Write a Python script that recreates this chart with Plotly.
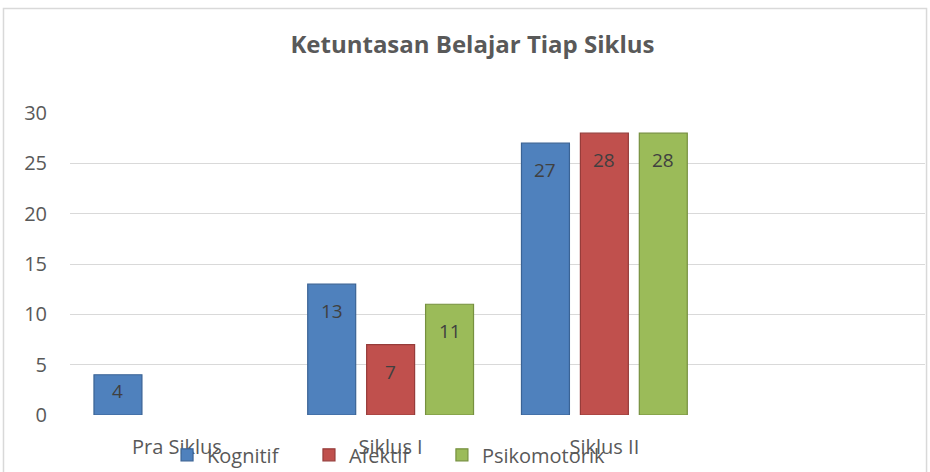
import plotly.graph_objects as go

categories = ["Pra Siklus", "Siklus I", "Siklus II"]
series_names = ["Kognitif", "Afektif", "Psikomotorik"]
kognitif = [4, 13, 27]
afektif = [None, 7, 28]
psikomotorik = [None, 11, 28]
y_ticks = [0, 5, 10, 15, 20, 25, 30]

values = [kognitif, afektif, psikomotorik]
fills = ["#4F81BD", "#C0504D", "#9BBB59"]
edges = ["#3A6395", "#963C3A", "#76903F"]
legend_ids = ["legend", "legend2", "legend3"]
legend_x = [0.1135, 0.2795, 0.435]

FONT = "Open Sans"
GREY = "#595959"

W, H = 930, 472
ML, MR, MT, MB = 70, 5, 113, 57
BARGAP, BARGROUPGAP = 0.173, 0.186
X_RANGE = [-0.5, 3.5]
Y_RANGE = [0, 30]

plot_w = W - ML - MR
plot_h = H - MT - MB
slot_px = plot_w / (X_RANGE[1] - X_RANGE[0])
bar_step_px = slot_px * (1 - BARGAP) / len(series_names)
px_per_unit = plot_h / (Y_RANGE[1] - Y_RANGE[0])

fig = go.Figure()
annotations = []
for i, (name, vals, fc, ec, lg) in enumerate(zip(series_names, values, fills, edges, legend_ids)):
    fig.add_trace(go.Bar(
        name=name, x=categories, y=vals, legend=lg,
        marker=dict(color=fc, line=dict(color=ec, width=1.2)),
        hoverinfo="x+y+name",
    ))
    for cat, v in zip(categories, vals):
        if v is None:
            continue
        annotations.append(dict(
            x=cat, y=v, xref="x", yref="y", text=str(v), showarrow=False,
            xanchor="center", yanchor="middle",
            xshift=(i - (len(series_names) - 1) / 2) * bar_step_px,
            yshift=-min(27, 0.4 * v * px_per_unit),
            font=dict(family=FONT, size=19, color="#404040"),
        ))

legend_style = dict(orientation="h", xanchor="left", y=-0.132, yanchor="middle",
                    font=dict(family=FONT, size=20, color=GREY),
                    bgcolor="rgba(0,0,0,0)")

fig.update_layout(
    width=W, height=H,
    margin=dict(l=ML, r=MR, t=MT, b=MB, autoexpand=False),
    paper_bgcolor="white", plot_bgcolor="white",
    barmode="group", bargap=BARGAP, bargroupgap=BARGROUPGAP,
    title=dict(text="<b>Ketuntasan Belajar Tiap Siklus</b>",
               font=dict(family=FONT, size=24, color=GREY),
               x=0.508, xref="container", xanchor="center",
               y=1 - 45 / 472, yref="container", yanchor="middle"),
    font=dict(family=FONT, color=GREY),
    showlegend=True,
    legend=dict(x=legend_x[0], **legend_style),
    legend2=dict(x=legend_x[1], **legend_style),
    legend3=dict(x=legend_x[2], **legend_style),
    xaxis=dict(type="category", categoryorder="array", categoryarray=categories,
               range=X_RANGE, showgrid=False, zeroline=False, showline=False,
               ticks="", ticklabelstandoff=18,
               tickfont=dict(family=FONT, size=20, color=GREY)),
    yaxis=dict(range=Y_RANGE, tickvals=y_ticks, showgrid=True, gridcolor="#D9D9D9",
               gridwidth=1, zeroline=False, showline=False, ticks="",
               ticklabelstandoff=22,
               tickfont=dict(family=FONT, size=20, color=GREY)),
    annotations=annotations,
    shapes=[dict(type="rect", xref="paper", yref="paper",
                 x0=-0.0778, x1=1.0018, y0=-0.215, y1=1.346,
                 line=dict(color="#D9D9D9", width=1.5), layer="below")],
)

fig.write_html("out.html", config={"displayModeBar": False},
               post_script="document.body.style.margin='0px';")
